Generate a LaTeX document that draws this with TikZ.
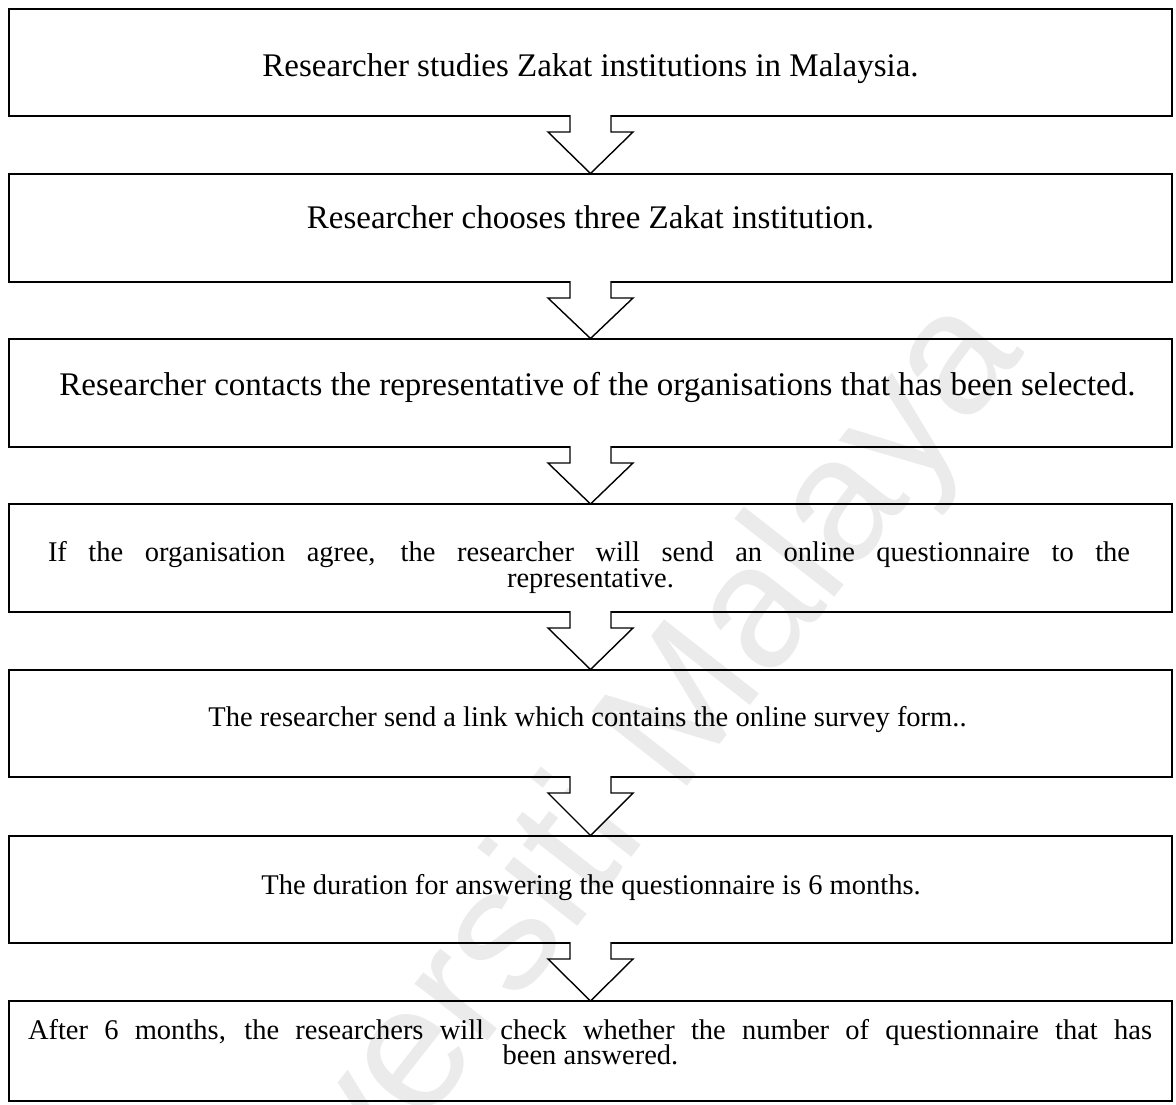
\documentclass[tikz,border=0pt]{standalone}
\usepackage{fontspec}
\setmainfont{Liberation Serif}
\newfontfamily\wmfont{Liberation Sans}
\usetikzlibrary{calc}
\begin{document}
\begin{tikzpicture}[x=1pt,y=-1pt,
  stepbox/.style={draw, line width=2pt, minimum width=1163pt, inner sep=0pt, outer sep=0pt},
  bigtext/.style={font=\fontsize{33}{36}\selectfont, anchor=base, inner sep=0pt},
  steptext/.style={font=\fontsize{28.5}{31}\selectfont, anchor=base, inner sep=0pt},
  arrowline/.style={line width=1.4pt, line join=miter},
  watermark/.style={text=black!8, font=\wmfont\fontsize{175}{175}\selectfont, rotate=52, inner sep=0pt}]
\useasboundingbox (0,0) rectangle (1176,1104);
\fill[white] (0,0) rectangle (1176,1104);

% faint background watermark
\node[watermark] (wm) at (580,850) {Universiti Malaya};

% process steps
\node[stepbox, minimum height=107pt] (b1) at (590.5,62.5) {};
\node[stepbox, minimum height=108.5pt] (b2) at (590.5,227.75) {};
\node[stepbox, minimum height=108.5pt] (b3) at (590.5,392.75) {};
\node[stepbox, minimum height=108pt] (b4) at (590.5,558) {};
\node[stepbox, minimum height=107.5pt] (b5) at (590.5,723.25) {};
\node[stepbox, minimum height=107.5pt] (b6) at (590.5,889.25) {};
\node[stepbox, minimum height=100pt] (b7) at (590.5,1051) {};

\node[bigtext] (t1) at (590.5,76) {Researcher studies Zakat institutions in Malaysia.};
\node[bigtext] (t2) at (590.5,228) {Researcher chooses three Zakat institution.};
\node[bigtext] (t3) at (597.5,395) {Researcher contacts the representative of the organisations that has been selected.};
\node[steptext] (t4a) at (589,561.5) {\makebox[1082pt][s]{If the organisation agree, the researcher will send an online questionnaire to the}};
\node[steptext] (t4b) at (590.5,587) {representative.};
\node[steptext] (t5) at (587.5,726.5) {The researcher send a link which contains the online survey form..};
\node[steptext] (t6) at (591,894.5) {The duration for answering the questionnaire is 6 months.};
\node[steptext] (t7a) at (590,1039.5) {\makebox[1124pt][s]{After 6 months, the researchers will check whether the number of questionnaire that has}};
\node[steptext] (t7b) at (590.5,1064.5) {been answered.};

% block arrows between consecutive steps
\foreach \a/\b in {b1/b2, b2/b3, b3/b4, b4/b5, b5/b6, b6/b7} {
  \fill[white] ($(\a.south)+(-20.5,-1.3)$) -- ($(\a.south)+(-20.5,16)$) -- ($(\a.south)+(-42.5,16)$)
    -- (\b.north) -- ($(\a.south)+(42.5,16)$) -- ($(\a.south)+(20.5,16)$) -- ($(\a.south)+(20.5,-1.3)$) -- cycle;
  \draw[arrowline] ($(\a.south)+(-20.5,-1)$) -- ($(\a.south)+(-20.5,16)$) -- ($(\a.south)+(-42.5,16)$)
    -- (\b.north) -- ($(\a.south)+(42.5,16)$) -- ($(\a.south)+(20.5,16)$) -- ($(\a.south)+(20.5,-1)$);
}
\end{tikzpicture}
\end{document}
